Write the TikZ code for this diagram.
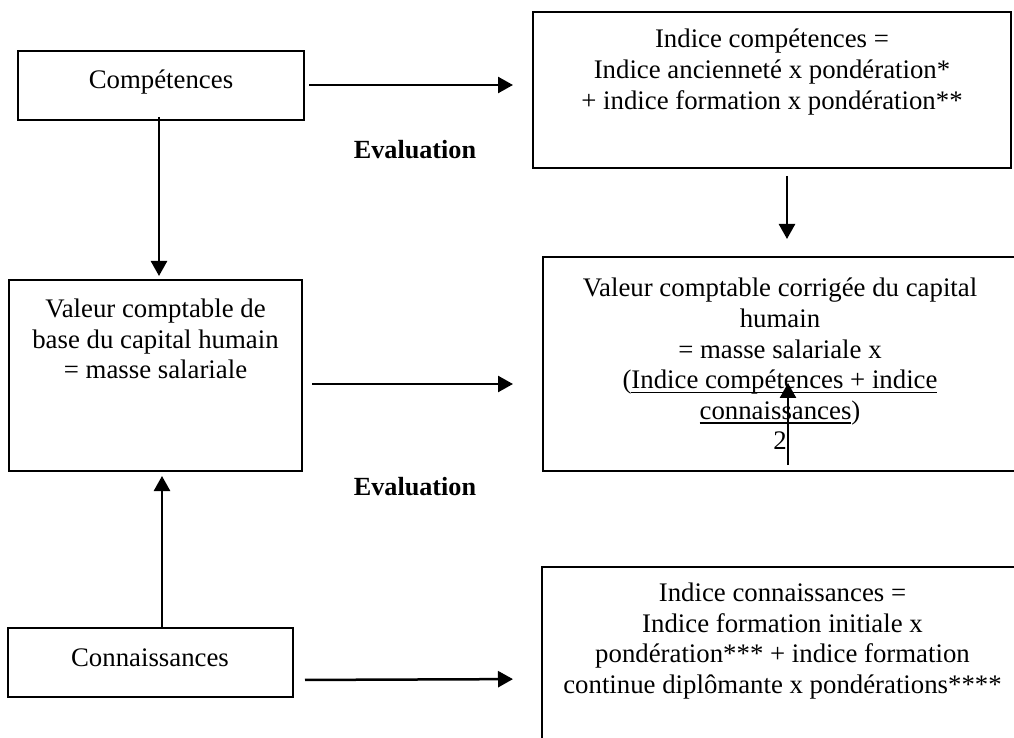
\documentclass[tikz,border=0pt]{standalone}
\usepackage{fontspec}
\setmainfont{Liberation Serif}
\usetikzlibrary{arrows.meta}
\newcommand{\ulx}[1]{\setbox0\hbox{#1}\rlap{\rule[-2.2pt]{\wd0}{0.7pt}}\box0}
\begin{document}
\begin{tikzpicture}[x=0.5pt,y=-0.5pt,
  box/.style={draw,line width=1pt,inner sep=0pt},
  txt/.style={align=center,inner sep=0pt,font=\fontsize{13.4}{15.3}\selectfont},
  evallbl/.style={inner sep=0pt,font=\fontsize{13.1}{15}\selectfont\bfseries},
  arr/.style={line width=1.25pt,-{Triangle[length=7.5pt,width=8pt]}}]
\useasboundingbox (0,0) rectangle (1014,738);
\clip (0,0) rectangle (1014,738);
% boxes
\node[box,minimum width=143pt,minimum height=34.5pt] (comp) at (161,85.5) {};
\node[box,minimum width=239pt,minimum height=78pt] (icomp) at (772,90) {};
\node[box,minimum width=146.5pt,minimum height=95.5pt] (base) at (155.5,375.5) {};
\node[box,minimum width=243.5pt,minimum height=107pt] (corr) at (786.5,364) {};
\node[box,minimum width=142.5pt,minimum height=34.5pt] (conn) at (150.5,662.5) {};
\node[box,minimum width=244pt,minimum height=106.5pt] (iconn) at (786,673.5) {};
% texts
\node[txt] (tcomp) at (161,82) {Compétences};
\node[txt] (ticomp) at (772,72) {Indice compétences =\\Indice ancienneté x pondération*\\+ indice formation x pondération**};
\node[txt] (tbase) at (155.5,339) {Valeur comptable de\\base du capital humain\\= masse salariale};
\node[txt] (tcorr) at (780,364) {Valeur comptable corrigée du capital\\humain\\= masse salariale x\\(\ulx{Indice compétences + indice}\\\ulx{connaissances})\\2};
\node[txt] (tconn) at (150,658) {Connaissances};
\node[txt] (ticonn) at (782.5,641) {Indice connaissances =\\Indice formation initiale x\\pondération*** + indice formation\\continue diplômante x pondérations****};
\node[evallbl] (ev1) at (415,150) {Evaluation};
\node[evallbl] (ev2) at (415,487) {Evaluation};
% connectors
\draw[arr,shorten <=2pt,shorten >=9.5pt] ([yshift=0.25pt]comp.east) -- ([yshift=0.25pt]comp.east -| icomp.west);
\draw[arr,shorten >=1.5pt] ([xshift=-1pt,yshift=2pt]comp.south) -- ([xshift=-1pt]comp.south |- base.north);
\draw[arr,shorten <=3.5pt,shorten >=8.5pt] ([xshift=7.5pt]icomp.south) -- ([xshift=7.5pt]icomp.south |- corr.north);
\draw[arr,shorten <=4.5pt,shorten >=14.5pt] ([yshift=-4.25pt]base.east) -- ([yshift=-4.25pt]base.east -| corr.west);
\draw[arr,shorten >=2pt] ([xshift=5.75pt]conn.north) -- ([xshift=5.75pt]conn.north |- base.south);
\draw[arr,shorten <=5.5pt,shorten >=14pt] ([yshift=-8.75pt]conn.east) -- ([yshift=-8.25pt]conn.east -| iconn.west);
\coordinate (oddA) at (788,465);
\coordinate (oddB) at (788,383);
\draw[arr] (oddA) -- (oddB);
\end{tikzpicture}
\end{document}
